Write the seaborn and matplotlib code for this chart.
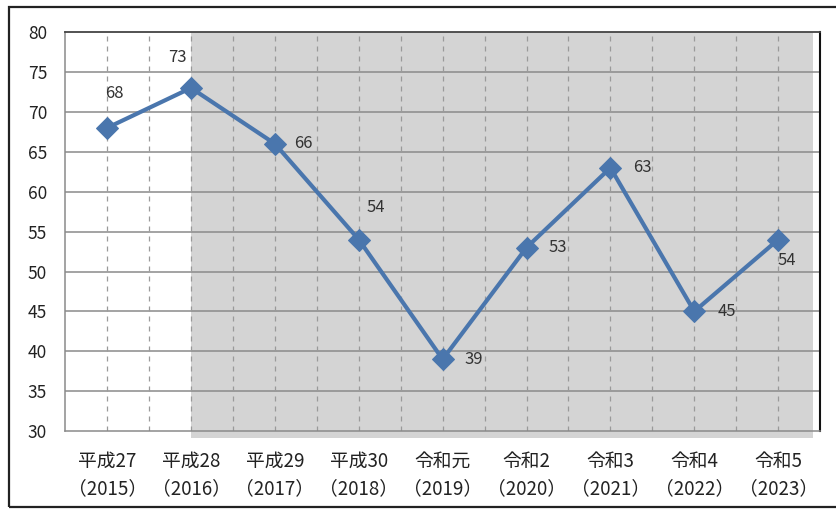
import matplotlib
matplotlib.use("Agg")
import matplotlib.pyplot as plt
from matplotlib.patches import Rectangle
import seaborn as sns
import pandas as pd
import numpy as np

# Yearly values
era_labels = ["平成27", "平成28", "平成29", "平成30", "令和元", "令和2", "令和3", "令和4", "令和5"]
years = ["2015", "2016", "2017", "2018", "2019", "2020", "2021", "2022", "2023"]
values = [68, 73, 66, 54, 39, 53, 63, 45, 54]

# label placement per point (dx, dy in points; horizontal alignment)
label_offsets = [(5, 25, "center"), (-10, 22, "center"), (14, 0, "left"), (12, 23, "center"),
                 (16, 0, "left"), (16, 0, "left"), (16, 0, "left"), (17, 0, "left"), (6, -15, "center")]

sns.set_theme(style="white")
plt.rcParams["font.family"] = ["Noto Sans CJK JP", "DejaVu Sans"]

df = pd.DataFrame({"pos": np.arange(len(values)), "value": values})

fig = plt.figure(figsize=(8.36, 5.09), dpi=100)
ax = fig.add_axes([0.078, 0.153, 0.903, 0.784])

# shaded period from 平成28 onward
ax.add_patch(Rectangle((1, 29.1), 7.42, 50.9, facecolor="#d4d4d4", edgecolor="none",
                       zorder=0, clip_on=False))

# horizontal grid
for y in range(35, 80, 5):
    ax.axhline(y, color="#8a8a8a", lw=1.1, zorder=1)
# dashed vertical grid at category centres and boundaries
for x in np.arange(0, 8.5, 0.5):
    ax.axvline(x, color="#9a9a9a", lw=0.9, ls=(0, (4, 4)), zorder=1)

sns.lineplot(data=df, x="pos", y="value", ax=ax, color="#4a76ad", lw=3.0,
             marker="D", markersize=11.5, markeredgecolor="#4a76ad", zorder=3)

for i, v in enumerate(values):
    dx, dy, ha = label_offsets[i]
    ax.annotate(str(v), (i, v), xytext=(dx, dy), textcoords="offset points",
                ha=ha, va="center", fontsize=12, color="#333333", zorder=4)

ax.set_xlim(-0.5, 8.5)
ax.set_ylim(30, 80)
ax.set_yticks(range(30, 81, 5))
ax.set_xticks(range(len(values)))
ax.set_xticklabels([f"{e}\n（{y}）" for e, y in zip(era_labels, years)],
                   fontsize=13.5, color="#222222", linespacing=1.4)
ax.set_xticks(np.arange(-0.5, 8.6, 1), minor=True)
ax.tick_params(axis="x", which="major", length=0, pad=14)
ax.tick_params(axis="x", which="minor", length=6, color="#8a8a8a", width=1)
ax.tick_params(axis="y", length=5, color="#8a8a8a", width=1, labelsize=12.5,
               labelcolor="#222222", pad=8)
ax.set_xlabel("")
ax.set_ylabel("")

for side in ["left", "bottom"]:
    ax.spines[side].set_color("#8a8a8a")
    ax.spines[side].set_linewidth(1.1)
ax.spines["top"].set_color("#444444")
ax.spines["top"].set_linewidth(1.3)
ax.spines["right"].set_color("#111111")
ax.spines["right"].set_linewidth(1.5)
for s in ax.spines.values():
    s.set_visible(True)
    s.set_zorder(2)

# outer frame
fig.patches.append(Rectangle((9 / 836, 1 - 507 / 509), 1.0, (507 - 7) / 509,
                             transform=fig.transFigure, fill=False,
                             edgecolor="#222222", lw=1.6))

fig.savefig("out.png", dpi=100)
